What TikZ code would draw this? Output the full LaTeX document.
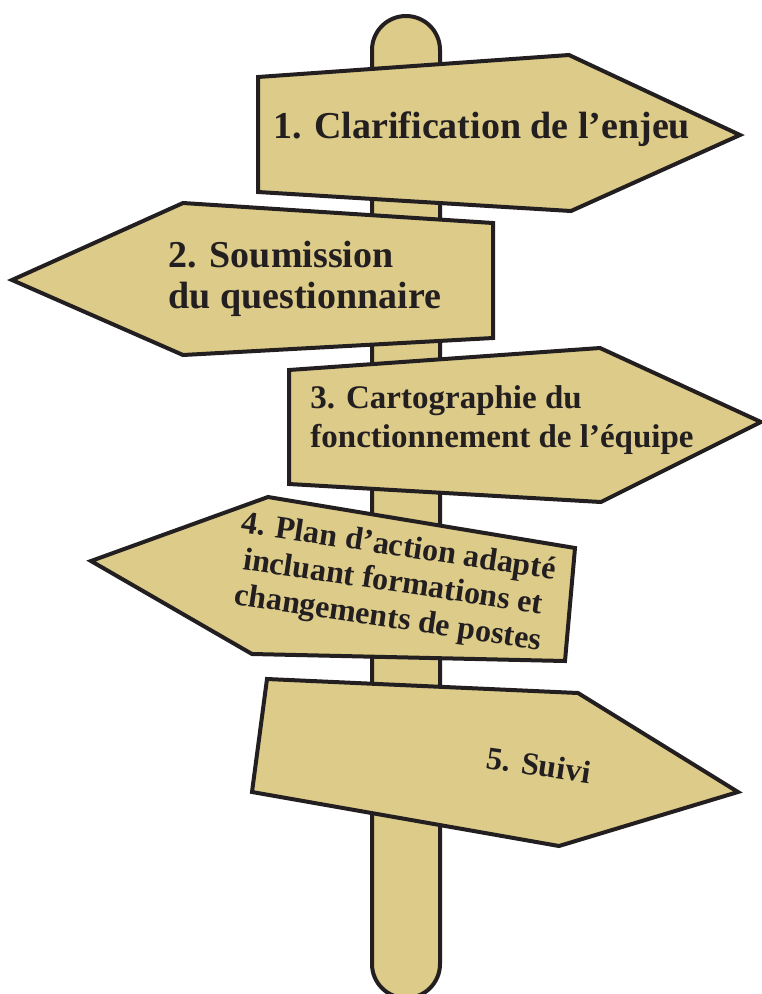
\documentclass[tikz,border=0pt]{standalone}
\usepackage{fontspec}
\setmainfont{Liberation Serif}
\usepackage{xcolor}
\definecolor{signtan}{HTML}{DCCB89}
\definecolor{inkdark}{HTML}{231F20}

\begin{document}
\begin{tikzpicture}[x=1pt,y=-1pt,
    board/.style={fill=signtan,draw=inkdark,line width=4pt,line join=miter},
    boardtext/.style={inkdark,inner sep=0pt},
    bigtext/.style={font=\bfseries\fontsize{38}{41}\selectfont},
    midtext/.style={font=\bfseries\fontsize{33}{39}\selectfont},
    slanttext/.style={font=\bfseries\fontsize{32}{36}\selectfont}]
  \useasboundingbox (0,0) rectangle (761,994);

  % the pole behind the boards
  \draw[board,rounded corners=34pt] (372,16) rectangle (440,998);

  % board 1, pointing right
  \draw[board] (258,77) -- (569,55) -- (740,135) -- (571,211) -- (258,192) -- cycle;
  \node[boardtext,bigtext,anchor=base west] (enjeu) at (273,138)
    {1. Clarification de l'enjeu};

  % board 2, pointing left
  \draw[board] (12,280) -- (183,203) -- (493,223) -- (493,338) -- (183,355) -- cycle;
  \node[boardtext,bigtext,align=left] (soumission) at (305,279)
    {2. Soumission\\du questionnaire};

  % board 3, pointing right
  \draw[board] (289,370) -- (600,348) -- (761,422) -- (601,502) -- (289,484) -- cycle;
  \node[boardtext,midtext,align=left] (carto) at (502,420)
    {3. Cartographie du\\fonctionnement de l'équipe};

  % board 4, pointing left, tilted
  \draw[board] (91,561) -- (268,497) -- (575,548) -- (565,661) -- (252,654) -- cycle;
  \node[boardtext,slanttext,align=center,rotate=-8.5] (plan) at (393,584)
    {4. Plan d'action adapté\\incluant formations et\\changements de postes};

  % board 5, pointing right, tilted
  \draw[board] (267,679) -- (578,693) -- (738,792) -- (559,846) -- (252,792) -- cycle;
  \node[boardtext,slanttext,rotate=-8.5] (suivi) at (539,765) {5. Suivi};
\end{tikzpicture}
\end{document}
